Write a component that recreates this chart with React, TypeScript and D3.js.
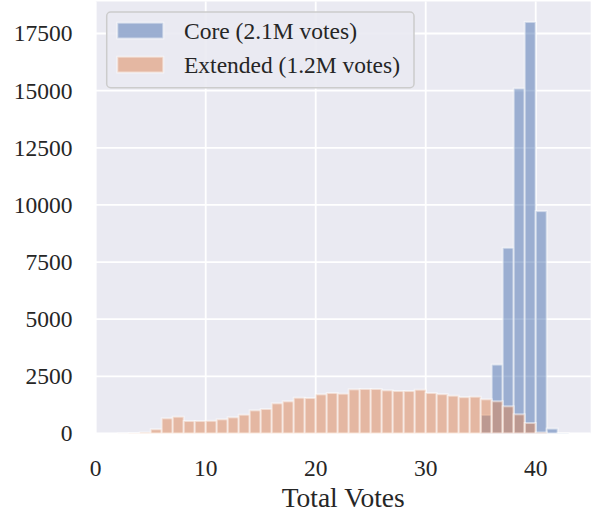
import React from "react";
import * as d3 from "d3";

const coreBins = [35, 36, 37, 38, 39, 40, 41, 42];
const coreCounts = [809, 3015, 8125, 15095, 18007, 9730, 215, 15];

const extendedBins = [
  2, 3, 4, 5, 6, 7, 8, 9, 10, 11, 12, 13, 14, 15, 16, 17, 18, 19, 20, 21,
  22, 23, 24, 25, 26, 27, 28, 29, 30, 31, 32, 33, 34, 35, 36, 37, 38, 39, 40,
];
const extendedCounts = [
  5, 15, 45, 185, 665, 735, 546, 546, 555, 620, 708, 822, 1013, 1071, 1320,
  1408, 1566, 1552, 1713, 1771, 1742, 1932, 1946, 1946, 1889, 1858, 1858,
  1917, 1771, 1720, 1654, 1590, 1610, 1495, 1410, 1190, 840, 460, 45,
];

const xTicks = [0, 10, 20, 30, 40];
const yTicks = [0, 2500, 5000, 7500, 10000, 12500, 15000, 17500];
const legendLabels = ["Core (2.1M votes)", "Extended (1.2M votes)"];
const xLabel = "Total Votes";

const W = 595;
const H = 518;
const FONT = "'Liberation Serif', 'Times New Roman', Times, serif";
const BG = "#EAEAF2";
const BLUE = "#4C72B0";
const ORANGE = "#DD8452";

export default function App() {
  const x = d3.scaleLinear().domain([0, 45]).range([95.7, 590.7]);
  const y = d3.scaleLinear().domain([0, 18900]).range([433.5, 1.5]);
  const [x0, x1] = x.range();
  const [y0, y1] = y.range();

  const bars = (bins: number[], counts: number[], color: string, key: string) =>
    bins.map((b, i) => (
      <rect
        key={key + b}
        x={x(b)}
        y={y(counts[i])}
        width={x(b + 1) - x(b)}
        height={y(0) - y(counts[i])}
        fill={color}
        fillOpacity={0.5}
        stroke="#ffffff"
        strokeOpacity={0.5}
        strokeWidth={2}
      />
    ));

  const legendColors = [BLUE, ORANGE];

  return (
    <svg
      width={W}
      height={H}
      style={{ position: "absolute", left: 0, top: 0, background: "#fff" }}
      fontFamily={FONT}
    >
      <defs>
        <clipPath id="plotclip">
          <rect x={x0} y={y1} width={x1 - x0} height={y0 - y1} />
        </clipPath>
      </defs>
      <rect x={x0} y={y1} width={x1 - x0} height={y0 - y1} fill={BG} />
      {xTicks.map((t) => (
        <line
          key={"gx" + t}
          x1={x(t)}
          x2={x(t)}
          y1={y1}
          y2={y0}
          stroke="#fff"
          strokeWidth={1.8}
        />
      ))}
      {yTicks.map((t) => (
        <line
          key={"gy" + t}
          x1={x0}
          x2={x1}
          y1={y(t)}
          y2={y(t)}
          stroke="#fff"
          strokeWidth={1.8}
        />
      ))}
      <g clipPath="url(#plotclip)">
        {bars(coreBins, coreCounts, BLUE, "c")}
        {bars(extendedBins, extendedCounts, ORANGE, "e")}
      </g>
      {xTicks.map((t) => (
        <text
          key={"tx" + t}
          x={x(t)}
          y={476}
          textAnchor="middle"
          fontSize={23.5}
          fill="#262626"
        >
          {t}
        </text>
      ))}
      {yTicks.map((t) => (
        <text
          key={"ty" + t}
          x={72.5}
          y={y(t)}
          dy="0.34em"
          textAnchor="end"
          fontSize={23.5}
          fill="#262626"
        >
          {t}
        </text>
      ))}
      <text
        x={(x0 + x1) / 2}
        y={507}
        textAnchor="middle"
        fontSize={27.5}
        fill="#262626"
      >
        {xLabel}
      </text>
      <g>
        <rect
          x={106.7}
          y={12}
          width={307.3}
          height={75.7}
          rx={4}
          ry={4}
          fill={BG}
          fillOpacity={0.9}
          stroke="#cccccc"
          strokeWidth={1.5}
        />
        {legendLabels.map((lab, i) => (
          <g key={"lg" + i}>
            <rect
              x={117.3}
              y={22.7 + i * 34}
              width={46}
              height={15.8}
              fill={legendColors[i]}
              fillOpacity={0.5}
              stroke="#fff"
              strokeOpacity={0.5}
              strokeWidth={2}
            />
            <text x={184} y={38.5 + i * 34} fontSize={23.5} fill="#262626">
              {lab}
            </text>
          </g>
        ))}
      </g>
    </svg>
  );
}
